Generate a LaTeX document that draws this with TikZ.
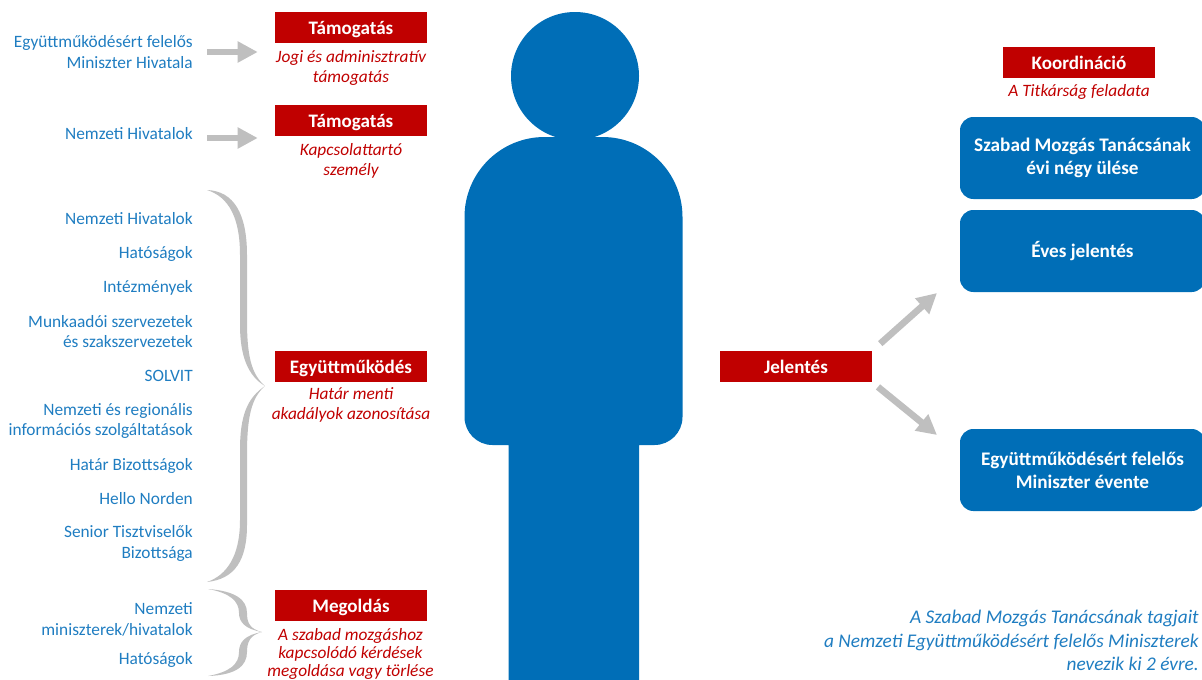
\documentclass[tikz,border=0pt]{standalone}
\usepackage{fontspec}
\setmainfont{Carlito}
\usetikzlibrary{arrows.meta}
\definecolor{kek}{HTML}{006EB7}
\definecolor{kekszoveg}{HTML}{1F7DC1}
\definecolor{piros}{HTML}{C00000}
\definecolor{szurke}{HTML}{BFBFBF}
\tikzset{
	cimke/.style={fill=piros, text=white, font=\fontsize{14.3}{16}\selectfont\bfseries, minimum width=114pt, minimum height=23.25pt, inner sep=0pt, text height=11pt, text depth=1pt},
	alairas/.style={text=piros, font=\fontsize{13}{15}\selectfont\itshape, align=center, inner sep=0pt},
	tetel/.style={text=kekszoveg, font=\fontsize{13}{15.4}\selectfont, align=right, anchor=east, inner sep=0pt},
	doboz/.style={fill=kek, text=white, font=\fontsize{14.4}{17.3}\selectfont\bfseries, align=center, rounded corners=10pt, minimum width=183.75pt, minimum height=61.5pt, inner sep=0pt},
	nyil/.style={draw=szurke, line width=5pt, -{Triangle[length=15pt,width=15pt]}},
	kapocs/.style={fill=szurke}
}
\begin{document}
\begin{tikzpicture}[x=0.75pt, y=-0.75pt]
	\path[use as bounding box, clip] (0,0) rectangle (1202,679);
	% alak
	\fill[kek] (575,76) circle (48pt);
	\fill[kek] (464.5,300) [rounded corners=60pt] -- (464.5,137) -- (682.5,137) [rounded corners=21pt] -- (682.5,445) [sharp corners] -- (639,445) -- (639,690) -- (508.5,690) -- (508.5,445) [rounded corners=21pt] -- (464.5,445) -- cycle;
	% bal oldal
	\node[tetel] (miniszter) at (193,52) {Együttműködésért felelős\\Miniszter Hivatala};
	\node[tetel] (hivatal) at (193,134) {Nemzeti Hivatalok};
	\foreach \i/\j/\t in {1/218.5/Nemzeti Hivatalok, 2/254/Hatóságok, 3/288/Intézmények, 4/331.5/{Munkaadói szervezetek\\és szakszervezetek}, 5/375.5/SOLVIT, 6/421/{Nemzeti és regionális\\információs szolgáltatások}, 7/466/Határ Bizottságok, 8/499/Hello Norden, 9/543.5/{Senior Tisztviselők\\Bizottsága}, 10/619.5/{Nemzeti\\miniszterek/hivatalok}, 11/660/Hatóságok}
	\node[tetel] (t\i) at (193,\j) {\t};
	\node[cimke] (tam1) at (351,27.5) {Támogatás};
	\node[cimke] (tam2) at (351,120.5) {Támogatás};
	\node[cimke] (egy) at (351,366.5) {Együttműködés};
	\node[cimke] (meg) at (351,605.5) {Megoldás};
	\node[alairas] (jogi) at (351,67.5) {Jogi és adminisztratív\\támogatás};
	\node[alairas] (kapcs) at (351,161) {Kapcsolattartó\\személy};
	\node[alairas] (akad) at (351,404.5) {Határ menti\\akadályok azonosítása};
	\node[alairas, font=\fontsize{13}{13.5}\selectfont\itshape] (szabad) at (350.5,653.5) {A szabad mozgáshoz\\kapcsolódó kérdések\\megoldása vagy törlése};
	\draw[nyil, shorten <=10.5pt, shorten >=12.75pt] (miniszter.east) -- (miniszter.east -| tam1.west);
	\draw[nyil, shorten <=10.5pt, shorten >=12.75pt] ([yshift=-3pt]hivatal.east) -- ([yshift=-3pt]hivatal.east -| tam2.west);
	\fill[kapocs] (207,190) .. controls (234,191) and (247,214) .. (247,255) -- (247,320) .. controls (247,355) and (251,374) .. (265,386) .. controls (251,398) and (247,418) .. (247,455) -- (247,525) .. controls (247,560) and (235,579) .. (207,582) .. controls (227,575) and (240,556) .. (240,520) -- (240,450) .. controls (240,416) and (247,398) .. (265,386) .. controls (248,376) and (240,356) .. (240,325) -- (240,255) .. controls (240,218) and (229,197) .. (207,190) -- cycle;
	\fill[kapocs] (208,589) .. controls (236,591) and (247,600) .. (247,613) .. controls (247,623) and (250,629) .. (262,632) .. controls (250,635) and (247,642) .. (247,652) .. controls (247,666) and (236,675) .. (208,676) .. controls (230,672) and (239,664) .. (239,652) .. controls (239,642) and (245,635) .. (262,632) .. controls (245,629) and (239,622) .. (239,613) .. controls (239,601) and (230,593) .. (208,589) -- cycle;
	% jobb oldal
	\node[cimke] (koord) at (1079,62.5) {Koordináció};
	\node[alairas] (titk) at (1079,92) {A Titkárság feladata};
	\node[doboz] (ules) at (1082.5,158) {Szabad Mozgás Tanácsának\\évi négy ülése};
	\node[doboz] (eves) at (1082.5,251) {Éves jelentés};
	\node[doboz] (evente) at (1082.5,470) {Együttműködésért felelős\\Miniszter évente};
	\node[cimke] (jel) at (796,366.5) {Jelentés};
	\coordinate (evesbe) at (937,293);
	\coordinate (eventebe) at (937,435);
	\draw[nyil, shorten <=8pt] (jel.north east) -- (evesbe);
	\draw[nyil, shorten <=5.5pt] (jel.south east) -- (eventebe);
	\node[text=kekszoveg, font=\fontsize{14.5}{17.6}\selectfont\itshape, align=right, anchor=east, inner sep=0pt] (tagok) at (1199,640.5) {A Szabad Mozgás Tanácsának tagjait\\a Nemzeti Együttműködésért felelős Miniszterek\\nevezik ki 2 évre.};
\end{tikzpicture}
\end{document}
